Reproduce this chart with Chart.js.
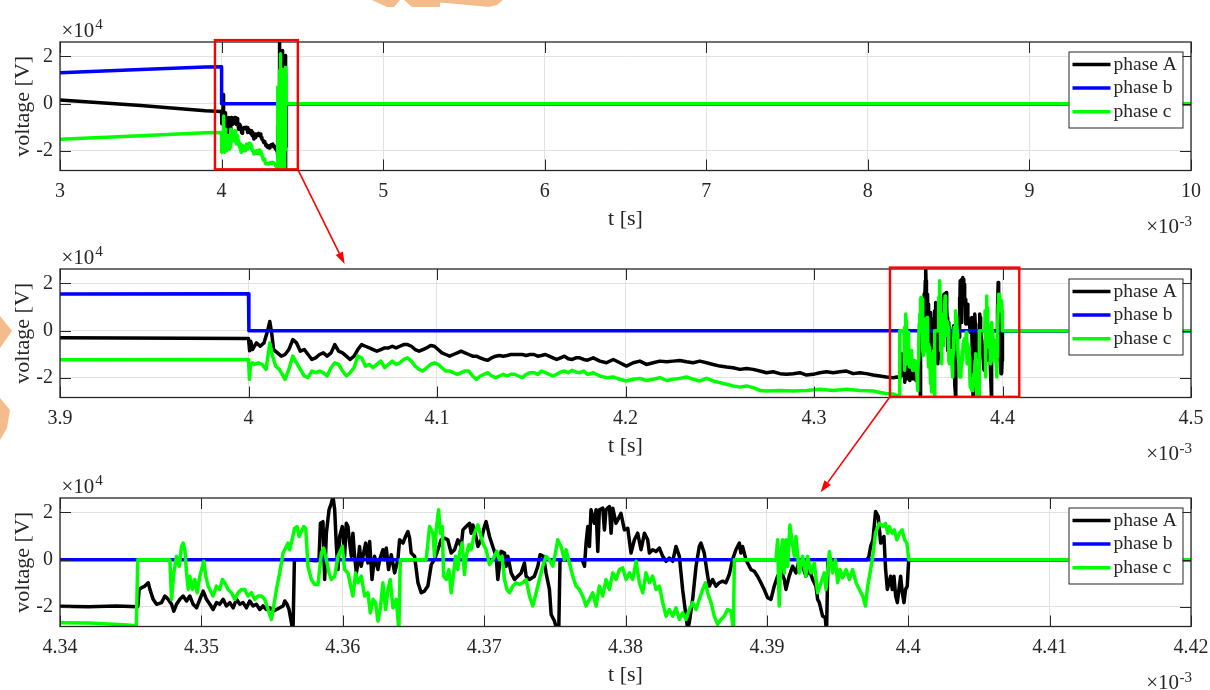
<!DOCTYPE html>
<html><head><meta charset="utf-8">
<script src="https://cdn.jsdelivr.net/npm/chart.js@4.4.1/dist/chart.umd.min.js"></script>
<style>
html,body{margin:0;padding:0;background:#fff;width:1210px;height:690px;overflow:hidden;}
#wrap{position:relative;width:1210px;height:690px;}
canvas{position:absolute;left:0;}
#wm{top:0}
#c1{top:0px}
#c2{top:227px}
#c3{top:456px}
#ov{top:0;pointer-events:none}
</style></head>
<body><div id="wrap">
<canvas id="wm" width="1210" height="690"></canvas>
<canvas id="c1" width="1210" height="236"></canvas>
<canvas id="c2" width="1210" height="236"></canvas>
<canvas id="c3" width="1210" height="236"></canvas>
<canvas id="ov" width="1210" height="690"></canvas>
</div>
<script>
// ---------- DATA (t in ms [x10^-3 s], voltage in x10^4 V) ----------
const seriesNames = ['phase A', 'phase b', 'phase c'];
const seriesColors = ['#000000', '#0000ff', '#00ff00'];

const phaseB = [[3.0,1.31],[3.5,1.45],[3.9,1.55],[4.0,1.56],[4.0002,0.0],[10.0,0.0]];

const phaseA = [
[3.0,0.15],[3.5,-0.08],[3.9,-0.30],[4.0,-0.33],
[4.0006,-0.85],[4.0012,-0.45],[4.0021,-0.80],[4.0042,-0.52],[4.0062,-0.66],[4.0082,-0.52],[4.0103,0.04],[4.0113,0.39],[4.0123,-0.10],[4.0133,-0.80],[4.0154,-0.94],[4.0174,-1.08],[4.0194,-1.01],[4.0214,-0.80],[4.0235,-0.38],[4.0255,-0.52],[4.0275,-0.87],[4.0296,-0.80],[4.0316,-1.01],[4.0336,-1.22],[4.0356,-1.15],[4.0377,-1.01],[4.0397,-0.94],[4.0417,-1.08],[4.0438,-0.94],[4.0458,-0.59],[4.0478,-0.87],[4.0499,-0.94],[4.0519,-1.08],[4.0539,-1.22],[4.0560,-1.08],[4.0580,-0.80],[4.0600,-0.59],[4.0620,-0.66],[4.0641,-0.73],[4.0661,-0.80],[4.0681,-0.87],[4.0702,-0.80],[4.0722,-0.73],[4.0743,-0.73],[4.0763,-0.66],[4.0783,-0.73],[4.0803,-0.66],[4.0823,-0.59],[4.0844,-0.59],[4.0864,-0.66],[4.0884,-0.80],[4.0905,-0.87],[4.0925,-0.80],[4.0945,-0.73],[4.0966,-0.63],[4.0986,-0.66],[4.1006,-0.80],[4.1026,-0.94],[4.1047,-1.01],[4.1067,-1.08],[4.1087,-1.01],[4.1108,-0.94],[4.1128,-0.87],[4.1148,-0.94],[4.1169,-1.01],[4.1189,-1.08],[4.1209,-1.08],[4.1229,-1.15],[4.1250,-1.22],[4.1270,-1.25],[4.1290,-1.15],[4.1311,-1.08],[4.1331,-1.05],[4.1351,-1.08],[4.1372,-1.05],[4.1392,-1.01],[4.1412,-1.01],[4.1432,-1.01],[4.1453,-1.01],[4.1473,-1.05],[4.1493,-1.01],[4.1514,-1.01],[4.1534,-1.08],[4.1554,-1.05],[4.1575,-1.01],[4.1595,-1.08],[4.1615,-1.15],[4.1635,-1.22],[4.1656,-1.15],[4.1676,-1.08],[4.1696,-1.19],[4.1717,-1.22],[4.1737,-1.15],[4.1757,-1.15],[4.1778,-1.22],[4.1798,-1.25],
[4.1829,-1.15],[4.1864,-1.29],[4.1899,-1.36],[4.1935,-1.22],[4.1970,-1.36],[4.2005,-1.50],[4.2041,-1.36],[4.2076,-1.29],[4.2111,-1.43],[4.2147,-1.36],[4.2182,-1.29],[4.2218,-1.32],[4.2253,-1.29],[4.2288,-1.26],[4.2324,-1.32],[4.2359,-1.36],[4.2394,-1.29],[4.2430,-1.36],[4.2465,-1.43],[4.2500,-1.50],[4.2536,-1.54],[4.2571,-1.57],[4.2607,-1.64],[4.2642,-1.60],[4.2677,-1.64],[4.2713,-1.71],[4.2748,-1.78],[4.2783,-1.74],[4.2819,-1.82],[4.2854,-1.85],[4.2889,-1.82],[4.2925,-1.78],[4.2960,-1.88],[4.2995,-1.85],[4.3031,-1.78],[4.3066,-1.74],[4.3102,-1.78],[4.3137,-1.74],[4.3172,-1.71],[4.3208,-1.82],[4.3243,-1.78],[4.3278,-1.82],[4.3314,-1.88],[4.3349,-1.92],[4.3384,-1.96],[4.3420,-1.99],[4.3440,-1.96],[4.3455,-1.99],
[4.34560,-1.26],[4.34577,-1.19],[4.34600,-1.12],[4.34624,-0.98],[4.34636,-1.26],[4.34659,-1.68],[4.34683,-1.89],[4.34718,-1.82],[4.34742,-1.54],[4.34765,-1.68],[4.34789,-1.89],[4.34805,-2.18],[4.34824,-1.89],[4.34848,-1.68],[4.34871,-1.54],[4.34895,-1.75],[4.34918,-1.54],[4.34942,-1.89],[4.34966,-2.04],[4.34989,-1.68],[4.35013,-1.33],[4.35036,-1.68],[4.35060,-1.89],[4.35083,-2.11],[4.35107,-1.82],[4.35130,-1.89],[4.35154,-1.68],[4.35177,-1.96],[4.35201,-1.82],[4.35225,-2.04],[4.35248,-1.68],[4.35272,-1.89],[4.35295,-1.82],[4.35319,-2.04],[4.35342,-1.75],[4.35366,-1.96],[4.35389,-1.89],[4.35413,-2.11],[4.35436,-1.96],[4.35460,-2.11],[4.35484,-2.04],[4.35507,-2.18],[4.35531,-2.11],[4.35554,-2.04],[4.35578,-1.96],[4.35590,-1.75],[4.35606,-1.89],[4.35620,-2.11],[4.35637,-2.67],[4.35648,-3.10],[4.35658,0.00],[4.35719,0.00],[4.35813,-0.05],[4.35832,0.00],[4.35842,1.54],[4.35860,1.61],[4.35872,-0.84],[4.35884,1.12],[4.35903,2.11],[4.35919,2.39],[4.35931,2.67],[4.35943,2.11],[4.35955,0.56],[4.35966,-0.42],[4.35978,0.98],[4.35997,1.40],[4.36013,0.14],[4.36025,1.54],[4.36037,1.40],[4.36049,0.70],[4.36061,0.14],[4.36072,1.12],[4.36084,0.14],[4.36096,-0.56],[4.36108,-0.14],[4.36119,0.56],[4.36131,-0.28],[4.36143,0.14],[4.36162,0.70],[4.36178,-0.14],[4.36190,0.77],[4.36207,-0.84],[4.36225,0.14],[4.36249,-0.42],[4.36261,0.00],[4.36284,0.42],[4.36296,0.00],[4.36308,0.49],[4.36324,-0.42],[4.36343,0.21],[4.36367,-0.56],[4.36390,0.00],[4.36402,0.84],[4.36426,0.70],[4.36444,0.98],[4.36461,1.19],[4.36473,0.91],[4.36484,0.28],[4.36508,0.14],[4.36532,-0.98],[4.36555,-1.40],[4.36578,-1.33],[4.36602,-1.12],[4.36626,-0.21],[4.36649,0.00],[4.36673,0.42],[4.36696,0.84],[4.36720,0.91],[4.36743,0.84],[4.36767,0.28],[4.36791,0.42],[4.36814,0.84],[4.36838,0.56],[4.36850,1.26],[4.36873,1.40],[4.36897,1.54],[4.36908,1.12],[4.36920,1.47],[4.36932,1.26],[4.36956,0.56],[4.36979,0.84],[4.37002,1.40],[4.37014,1.61],[4.37038,0.98],[4.37061,0.56],[4.37085,0.14],[4.37097,-0.84],[4.37120,0.35],[4.37144,0.28],[4.37156,-0.28],[4.37168,0.14],[4.37191,-0.56],[4.37215,-0.84],[4.37238,-0.70],[4.37262,-0.56],[4.37285,-0.14],[4.37297,-0.70],[4.37321,-0.84],[4.37356,-0.70],[4.37380,-0.28],[4.37396,0.21],[4.37420,0.14],[4.37438,-0.56],[4.37462,-1.26],[4.37474,-2.32],[4.37497,-2.60],[4.37514,-2.95],[4.37528,-2.95],[4.37537,0.00],[4.37693,0.00],[4.37710,-0.28],[4.37721,0.70],[4.37733,1.40],[4.37745,0.56],[4.37756,2.11],[4.37780,1.54],[4.37792,2.11],[4.37804,0.35],[4.37815,2.11],[4.37839,2.18],[4.37851,1.26],[4.37862,2.11],[4.37886,2.25],[4.37898,1.12],[4.37910,2.18],[4.37933,1.54],[4.37957,1.82],[4.37968,1.96],[4.37992,1.26],[4.38016,1.33],[4.38039,0.28],[4.38063,0.84],[4.38086,1.12],[4.38110,0.42],[4.38134,1.12],[4.38157,0.84],[4.38169,0.28],[4.38192,0.42],[4.38216,0.35],[4.38240,0.49],[4.38263,0.14],[4.38287,-0.07],[4.38310,0.07],[4.38334,-0.07],[4.38357,0.56],[4.38381,0.14],[4.38404,-1.26],[4.38428,-2.39],[4.38440,-2.95],[4.38451,-2.67],[4.38475,-1.68],[4.38499,-0.28],[4.38522,0.56],[4.38534,0.70],[4.38557,0.28],[4.38574,-0.42],[4.38593,-1.12],[4.38616,-0.84],[4.38640,-1.12],[4.38663,-0.98],[4.38687,-0.91],[4.38710,-0.98],[4.38734,-0.63],[4.38757,0.00],[4.38781,0.42],[4.38805,0.70],[4.38816,0.28],[4.38828,0.56],[4.38852,0.00],[4.38887,-0.42],[4.38911,-0.49],[4.38934,-0.70],[4.38958,-0.98],[4.38981,-1.26],[4.39005,-1.61],[4.39029,-1.68],[4.39052,-1.12],[4.39076,-0.70],[4.39099,-0.42],[4.39123,-0.84],[4.39135,-1.26],[4.39158,-0.70],[4.39182,-0.28],[4.39206,-0.56],[4.39229,0.00],[4.39253,-0.28],[4.39276,-0.70],[4.39300,-0.42],[4.39324,-0.84],[4.39347,-1.12],[4.39359,-1.68],[4.39371,-1.82],[4.39394,-2.39],[4.39413,-2.46],[4.39422,-3.10],[4.39432,0.00],[4.39710,0.00],[4.39722,0.14],[4.39734,0.56],[4.39750,0.84],[4.39769,2.04],[4.39788,1.82],[4.39805,0.70],[4.39828,0.98],[4.39840,-0.42],[4.39852,-1.26],[4.39864,-0.98],[4.39875,-0.70],[4.39887,-1.26],[4.39899,-0.70],[4.39911,-1.54],[4.39923,-1.82],[4.39934,-1.26],[4.39946,-0.70],[4.39958,-1.40],[4.39970,-1.82],[4.39981,-1.26],[4.39993,-1.12],[4.40003,0.00],[10.0,0.00]
];

const phaseC = [
[3.0,-1.51],[3.5,-1.36],[3.9,-1.23],[4.0,-1.22],[4.0005,-2.06],[4.0010,-1.50],[4.0021,-1.36],[4.0031,-1.43],[4.0052,-1.36],[4.0072,-1.43],[4.0093,-1.64],[4.0113,-0.52],[4.0128,-1.08],[4.0144,-1.50],[4.0164,-1.64],[4.0194,-2.06],[4.0214,-1.64],[4.0235,-1.08],[4.0255,-1.36],[4.0275,-1.64],[4.0296,-1.92],[4.0316,-1.99],[4.0336,-1.71],[4.0356,-1.78],[4.0377,-1.71],[4.0397,-1.78],[4.0417,-1.92],[4.0438,-1.57],[4.0458,-1.36],[4.0478,-1.43],[4.0499,-1.71],[4.0519,-1.92],[4.0539,-1.78],[4.0560,-1.57],[4.0580,-1.08],[4.0600,-1.15],[4.0620,-1.50],[4.0641,-1.43],[4.0661,-1.57],[4.0681,-1.43],[4.0702,-1.29],[4.0722,-1.57],[4.0743,-1.43],[4.0763,-1.29],[4.0783,-1.43],[4.0803,-1.36],[4.0823,-1.22],[4.0844,-1.15],[4.0864,-1.29],[4.0884,-1.50],[4.0905,-1.64],[4.0925,-1.71],[4.0945,-1.57],[4.0966,-1.43],[4.0986,-1.36],[4.1006,-1.43],[4.1026,-1.57],[4.1047,-1.71],[4.1067,-1.71],[4.1087,-1.78],[4.1108,-1.85],[4.1128,-1.78],[4.1148,-1.71],[4.1169,-1.71],[4.1189,-1.92],[4.1209,-2.06],[4.1229,-1.92],[4.1250,-1.85],[4.1270,-1.78],[4.1290,-1.92],[4.1311,-1.99],[4.1331,-1.92],[4.1351,-1.85],[4.1372,-1.92],[4.1392,-1.85],[4.1412,-1.85],[4.1432,-1.92],[4.1453,-1.99],[4.1473,-1.85],[4.1493,-1.78],[4.1514,-1.78],[4.1534,-1.85],[4.1554,-1.71],[4.1575,-1.78],[4.1595,-1.85],[4.1615,-1.92],[4.1635,-1.85],[4.1656,-1.75],[4.1676,-1.71],[4.1696,-1.78],[4.1717,-1.68],[4.1737,-1.75],[4.1757,-1.78],[4.1778,-1.71],[4.1798,-1.85],
[4.1829,-1.78],[4.1864,-1.92],[4.1899,-1.99],[4.1935,-1.96],[4.1970,-2.06],[4.2005,-2.13],[4.2041,-2.06],[4.2076,-2.02],[4.2111,-2.11],[4.2147,-2.06],[4.2182,-1.99],[4.2218,-2.11],[4.2253,-2.06],[4.2288,-2.02],[4.2324,-1.96],[4.2359,-2.06],[4.2394,-2.13],[4.2430,-2.02],[4.2465,-2.13],[4.2500,-2.20],[4.2536,-2.27],[4.2571,-2.34],[4.2607,-2.39],[4.2642,-2.34],[4.2677,-2.41],[4.2713,-2.53],[4.2748,-2.55],[4.2819,-2.53],[4.2889,-2.55],[4.2960,-2.53],[4.3031,-2.48],[4.3102,-2.53],[4.3172,-2.48],[4.3243,-2.53],[4.3314,-2.55],[4.3349,-2.62],[4.3384,-2.66],[4.3420,-2.68],[4.3445,-2.76],[4.3454,-2.80],[4.3455,0.00],[4.34777,0.00],
[4.34789,-1.68],[4.34805,-0.56],[4.34824,0.14],[4.34843,-0.28],[4.34860,0.56],[4.34871,0.70],[4.34883,0.42],[4.34895,-0.56],[4.34907,-1.26],[4.34918,-0.70],[4.34937,-1.26],[4.34954,-0.84],[4.34970,-1.40],[4.34989,-0.70],[4.35008,-0.28],[4.35017,-0.07],[4.35031,-0.70],[4.35048,-1.12],[4.35071,-1.40],[4.35083,-1.54],[4.35107,-1.12],[4.35130,-1.26],[4.35149,-0.84],[4.35166,-0.98],[4.35189,-1.26],[4.35213,-1.40],[4.35236,-1.68],[4.35260,-1.40],[4.35283,-1.26],[4.35307,-1.26],[4.35330,-1.54],[4.35354,-1.40],[4.35378,-1.68],[4.35401,-1.54],[4.35425,-1.54],[4.35448,-1.68],[4.35472,-2.11],[4.35495,-2.53],[4.35512,-1.96],[4.35531,-1.26],[4.35554,-0.56],[4.35578,0.28],[4.35601,0.56],[4.35613,0.70],[4.35625,0.42],[4.35644,0.91],[4.35660,1.33],[4.35677,1.40],[4.35691,0.98],[4.35707,1.19],[4.35724,1.40],[4.35738,1.33],[4.35754,-0.28],[4.35778,-0.84],[4.35801,-1.05],[4.35825,-1.05],[4.35849,0.28],[4.35865,0.49],[4.35884,0.00],[4.35903,-0.56],[4.35919,-0.84],[4.35943,-0.70],[4.35966,0.14],[4.35997,0.56],[4.36013,-0.42],[4.36037,-0.56],[4.36061,-1.26],[4.36072,-1.54],[4.36091,-0.56],[4.36108,-0.98],[4.36131,-0.70],[4.36155,-1.54],[4.36178,-1.40],[4.36195,-2.25],[4.36214,-1.68],[4.36232,-1.82],[4.36249,-2.60],[4.36265,-2.11],[4.36284,-0.98],[4.36303,-2.11],[4.36320,-1.26],[4.36336,-0.84],[4.36355,-2.04],[4.36378,-1.68],[4.36397,-2.95],[4.36407,0.00],[4.36590,0.00],[4.36614,1.40],[4.36638,1.12],[4.36649,0.14],[4.36661,1.26],[4.36678,2.11],[4.36690,1.12],[4.36704,1.40],[4.36713,-0.70],[4.36732,-0.84],[4.36751,-0.42],[4.36767,-1.40],[4.36779,-0.84],[4.36798,0.14],[4.36814,-0.42],[4.36826,0.28],[4.36845,0.70],[4.36861,-0.63],[4.36873,0.14],[4.36892,0.63],[4.36908,0.42],[4.36932,1.12],[4.36956,1.47],[4.36972,1.12],[4.36991,0.70],[4.37014,0.42],[4.37038,-0.21],[4.37061,0.00],[4.37090,0.35],[4.37108,0.00],[4.37127,0.14],[4.37144,-0.84],[4.37161,-1.26],[4.37179,-1.40],[4.37203,-1.12],[4.37226,-0.98],[4.37250,-1.05],[4.37273,-0.98],[4.37297,-0.84],[4.37321,-1.54],[4.37344,-1.96],[4.37368,-1.40],[4.37391,-0.84],[4.37415,-0.28],[4.37438,0.14],[4.37462,0.00],[4.37486,-0.28],[4.37504,0.28],[4.37521,0.84],[4.37544,0.56],[4.37568,0.00],[4.37580,0.42],[4.37603,-0.14],[4.37627,-0.70],[4.37650,-1.12],[4.37674,-1.26],[4.37697,-1.54],[4.37721,-1.96],[4.37745,-1.68],[4.37768,-1.40],[4.37792,-1.96],[4.37815,-1.12],[4.37839,-1.54],[4.37862,-0.84],[4.37886,-1.26],[4.37910,-0.56],[4.37933,-0.84],[4.37957,-0.42],[4.37980,-0.35],[4.38004,-0.84],[4.38028,-0.56],[4.38051,-0.84],[4.38075,-0.07],[4.38098,-0.98],[4.38122,-1.40],[4.38145,-0.56],[4.38169,-0.98],[4.38192,-0.70],[4.38216,-1.26],[4.38240,-1.12],[4.38263,-1.82],[4.38287,-2.39],[4.38310,-2.11],[4.38334,-2.39],[4.38357,-2.04],[4.38381,-2.53],[4.38404,-2.25],[4.38428,-2.53],[4.38451,-2.11],[4.38475,-1.82],[4.38499,-2.11],[4.38522,-1.68],[4.38546,-1.26],[4.38565,-0.98],[4.38581,-1.40],[4.38605,-1.82],[4.38628,-2.39],[4.38652,-2.74],[4.38675,-2.53],[4.38699,-2.39],[4.38722,-2.11],[4.38746,-2.18],[4.38763,-2.95],[4.38770,0.00],[4.39064,0.00],[4.39076,0.84],[4.39087,-1.96],[4.39099,0.14],[4.39111,0.84],[4.39123,-0.56],[4.39135,0.84],[4.39147,-0.28],[4.39163,1.47],[4.39177,0.84],[4.39194,0.14],[4.39206,0.98],[4.39229,-0.56],[4.39253,0.14],[4.39276,-0.70],[4.39288,0.14],[4.39312,-0.56],[4.39335,-0.14],[4.39359,-1.40],[4.39383,-0.98],[4.39406,-0.56],[4.39418,-1.26],[4.39442,0.35],[4.39465,-0.56],[4.39484,0.00],[4.39501,-0.98],[4.39517,-0.42],[4.39536,-0.77],[4.39560,-0.42],[4.39583,-0.84],[4.39607,-0.42],[4.39631,-0.98],[4.39654,-1.26],[4.39678,-1.54],[4.39697,-1.96],[4.39713,-1.12],[4.39730,-0.56],[4.39749,0.14],[4.39768,1.12],[4.39785,1.40],[4.39796,1.54],[4.39820,1.40],[4.39839,1.54],[4.39855,1.12],[4.39867,1.40],[4.39886,1.12],[4.39902,1.26],[4.39919,0.84],[4.39938,1.12],[4.39957,1.26],[4.39974,0.84],[4.39990,0.70],[4.40004,0.00],[10.0,0.00]
];

const xTicksTop = [3, 4, 5, 6, 7, 8, 9, 10];
const xTicksMid = [3.9, 4.0, 4.1, 4.2, 4.3, 4.4, 4.5];
const xTicksBot = [4.34, 4.35, 4.36, 4.37, 4.38, 4.39, 4.40, 4.41, 4.42];
const yTicks = [-2, 0, 2];
const yRange = [-2.83, 2.61];
// zoom rectangles [tStart, tEnd, vLow, vHigh]
const zoomBoxTop = [3.959, 4.472, -2.78, 2.69];
const zoomBoxMid = [4.3403, 4.4089, -2.80, 2.67];
// arrow tips [t, v] in the target panel
const arrowTipMid = [4.051, 2.82];
const arrowTipBot = [4.3938, 2.85];

// ---------- RENDERING ----------
const SERIF = "'Liberation Serif', 'Times New Roman', serif";
const TXT = '#262626';
const CANVAS_H = 236, PAD_TOP = 42, PLOT_H = 128.5, AXIS_W = 60, PAD_RIGHT = 19;
const LINE_W = 3.5;

const fmt = v => String(+(+v).toFixed(2));
const toXY = arr => arr.map(p => ({x: p[0], y: p[1]}));

const matlabAxes = {
  id: 'matlabAxes',
  afterDatasetsDraw(chart, args, opts) {
    const {ctx, chartArea: a, scales: {x, y}} = chart;
    ctx.save();
    // tick marks (inward, all four sides)
    ctx.strokeStyle = TXT; ctx.lineWidth = 1;
    const TL = 11;
    ctx.beginPath();
    x.ticks.forEach(t => {
      const px = Math.round(x.getPixelForValue(t.value)) + 0.5;
      ctx.moveTo(px, a.bottom); ctx.lineTo(px, a.bottom - TL);
      ctx.moveTo(px, a.top); ctx.lineTo(px, a.top + TL);
    });
    y.ticks.forEach(t => {
      const py = Math.round(y.getPixelForValue(t.value)) + 0.5;
      ctx.moveTo(a.left, py); ctx.lineTo(a.left + TL, py);
      ctx.moveTo(a.right, py); ctx.lineTo(a.right - TL, py);
    });
    ctx.stroke();
    // axes box
    ctx.lineWidth = 1.3;
    ctx.strokeRect(a.left, a.top, a.right - a.left, a.bottom - a.top);

    // zoom rectangle
    if (opts.zoomBox) {
      const zb = opts.zoomBox;
      const x0 = x.getPixelForValue(zb[0]), x1 = x.getPixelForValue(zb[1]);
      const y0 = y.getPixelForValue(zb[3]), y1 = y.getPixelForValue(zb[2]);
      ctx.strokeStyle = '#ff0000'; ctx.lineWidth = 2.4;
      ctx.strokeRect(x0, y0, x1 - x0, y1 - y0);
    }

    // legend
    const lw = 114, lh = 76;
    const lx = a.right - 8.5 - lw, ly = a.top + 9.5;
    ctx.fillStyle = '#ffffff';
    ctx.fillRect(lx, ly, lw, lh);
    ctx.strokeStyle = '#262626'; ctx.lineWidth = 1;
    ctx.strokeRect(lx + 0.5, ly + 0.5, lw, lh);
    ctx.font = '19.5px ' + SERIF;
    ctx.textBaseline = 'middle'; ctx.textAlign = 'left';
    chart.data.datasets.forEach((d, i) => {
      const ry = ly + 13 + i * 23.6;
      ctx.strokeStyle = d.borderColor; ctx.lineWidth = LINE_W;
      ctx.beginPath(); ctx.moveTo(lx + 4, ry); ctx.lineTo(lx + 42, ry); ctx.stroke();
      ctx.fillStyle = TXT;
      ctx.fillText(d.label, lx + 45, ry);
    });

    // exponent labels
    ctx.fillStyle = TXT; ctx.textBaseline = 'alphabetic';
    ctx.textAlign = 'left';
    ctx.font = '21px ' + SERIF;
    const baseW = ctx.measureText('\u00d710').width;
    ctx.fillText('\u00d710', a.left + 1.5, a.top - 5.5);
    ctx.font = '15px ' + SERIF;
    ctx.fillText('4', a.left + 2.5 + baseW, a.top - 13);
    // x exponent
    ctx.font = '15px ' + SERIF;
    const supW = ctx.measureText('-3').width;
    ctx.fillText('-3', a.right + 1 - supW, a.bottom + 55);
    ctx.font = '21px ' + SERIF;
    ctx.textAlign = 'right';
    ctx.fillText('\u00d710', a.right + 0.5 - supW, a.bottom + 62);
    ctx.restore();
  }
};

function makeChart(id, xTicks, zoomBox) {
  const datasets = [
    {label: seriesNames[0], data: toXY(phaseA), borderColor: seriesColors[0], order: 2},
    {label: seriesNames[1], data: toXY(phaseB), borderColor: seriesColors[1], order: 1},
    {label: seriesNames[2], data: toXY(phaseC), borderColor: seriesColors[2], order: 0}
  ].map(d => Object.assign(d, {
    borderWidth: LINE_W, pointRadius: 0, pointHoverRadius: 0, tension: 0, fill: false,
    clip: 0, borderJoinStyle: 'round', borderCapStyle: 'butt'
  }));
  return new Chart(document.getElementById(id), {
    type: 'line',
    data: {datasets},
    plugins: [matlabAxes],
    options: {
      responsive: false, animation: false, events: [],
      layout: {padding: {top: PAD_TOP, right: PAD_RIGHT, bottom: 0, left: 0}},
      plugins: {
        legend: {display: false}, tooltip: {enabled: false},
        matlabAxes: {zoomBox: zoomBox}
      },
      scales: {
        x: {
          type: 'linear', min: xTicks[0], max: xTicks[xTicks.length - 1],
          afterBuildTicks: s => { s.ticks = xTicks.map(v => ({value: v})); },
          afterFit: s => {
            s.height = CANVAS_H - PAD_TOP - PLOT_H;
            s.paddingLeft = 0; s.paddingRight = 0;
          },
          ticks: {padding: 9, maxRotation: 0, autoSkip: false, color: TXT,
                  font: {family: SERIF, size: 20}, callback: v => fmt(v)},
          grid: {color: '#e2e2e2', lineWidth: 1, drawTicks: false},
          border: {display: false},
          title: {display: true, text: 't [s]', color: TXT,
                  font: {family: SERIF, size: 22}, padding: {top: 0, bottom: 4}}
        },
        y: {
          type: 'linear', min: yRange[0], max: yRange[1],
          afterBuildTicks: s => { s.ticks = yTicks.map(v => ({value: v})); },
          afterFit: s => { s.width = AXIS_W; s.paddingTop = 0; s.paddingBottom = 0; },
          ticks: {padding: 7, color: TXT, font: {family: SERIF, size: 20},
                  callback: v => fmt(v)},
          grid: {color: '#e2e2e2', lineWidth: 1, drawTicks: false},
          border: {display: false},
          title: {display: true, text: 'voltage [V]', color: TXT,
                  font: {family: SERIF, size: 22}, padding: {top: 10, bottom: 0}}
        }
      }
    }
  });
}

// faint watermark remnants in the background
(function drawWatermark() {
  const c = document.getElementById('wm').getContext('2d');
  c.fillStyle = 'rgba(241,165,100,0.75)';
  const polys = [
    [[372,0],[400,0],[394,7],[387,7]],
    [[404,0],[503,0],[497,5],[488,7],[412,7]],
    [[0,316],[12,331],[0,348]],
    [[0,398],[10,410],[7,428],[0,440]]
  ];
  polys.forEach(p => {
    c.beginPath(); c.moveTo(p[0][0], p[0][1]);
    p.slice(1).forEach(q => c.lineTo(q[0], q[1]));
    c.closePath(); c.fill();
  });
  c.fillStyle = '#ffffff';
  c.beginPath(); c.moveTo(440, 2.5); c.lineTo(490, 7); c.lineTo(440, 7); c.closePath(); c.fill();
})();

const chTop = makeChart('c1', xTicksTop, zoomBoxTop);
const chMid = makeChart('c2', xTicksMid, zoomBoxMid);
const chBot = makeChart('c3', xTicksBot, null);

function pagePoint(chart, canvasTop, t, v) {
  return [chart.scales.x.getPixelForValue(t), canvasTop + chart.scales.y.getPixelForValue(v)];
}
function drawArrow(ctx, p0, p1) {
  const ang = Math.atan2(p1[1] - p0[1], p1[0] - p0[0]);
  const hl = 12, hw = 4;
  const bx = p1[0] - hl * Math.cos(ang), by = p1[1] - hl * Math.sin(ang);
  ctx.strokeStyle = '#ff0000'; ctx.fillStyle = '#ff0000'; ctx.lineWidth = 1.6;
  ctx.beginPath(); ctx.moveTo(p0[0], p0[1]); ctx.lineTo(bx, by); ctx.stroke();
  ctx.beginPath();
  ctx.moveTo(p1[0], p1[1]);
  ctx.lineTo(bx + hw * Math.sin(ang), by - hw * Math.cos(ang));
  ctx.lineTo(bx - hw * Math.sin(ang), by + hw * Math.cos(ang));
  ctx.closePath(); ctx.fill();
}
(function drawArrows() {
  const ctx = document.getElementById('ov').getContext('2d');
  const a1s = pagePoint(chTop, 0, zoomBoxTop[1], zoomBoxTop[2]);
  const a1e = pagePoint(chMid, 227, arrowTipMid[0], arrowTipMid[1]);
  const a2s = pagePoint(chMid, 227, zoomBoxMid[0], zoomBoxMid[2]);
  const a2e = pagePoint(chBot, 456, arrowTipBot[0], arrowTipBot[1]);
  drawArrow(ctx, a1s, a1e);
  drawArrow(ctx, a2s, a2e);
})();
</script>
</body></html>
